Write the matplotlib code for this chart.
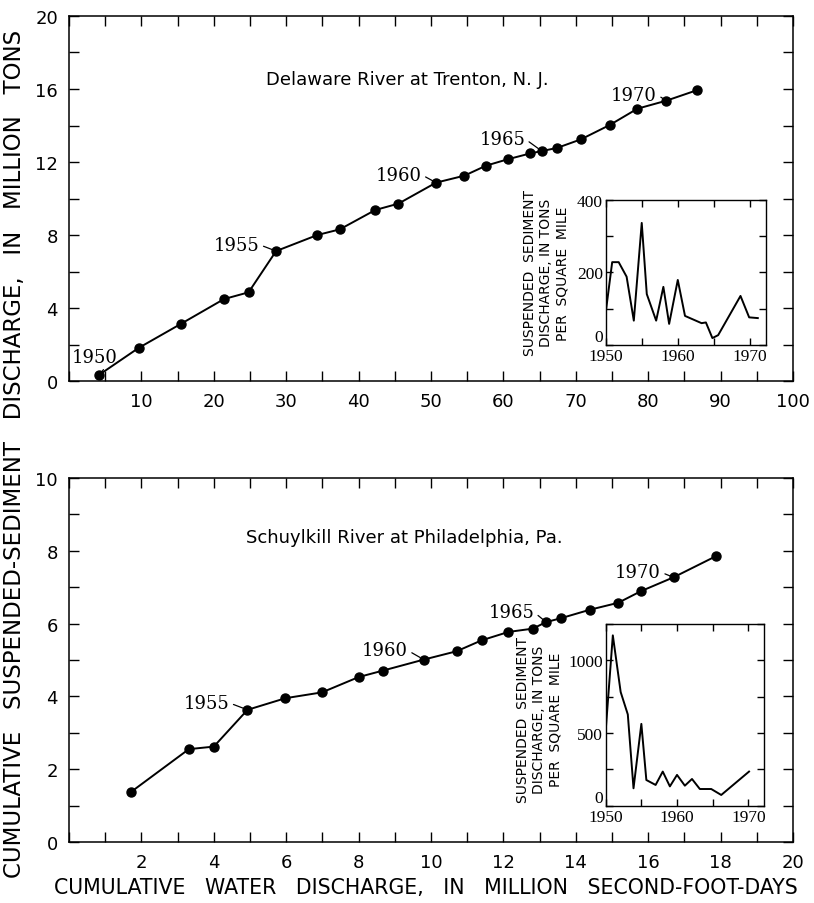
import matplotlib.pyplot as plt
from matplotlib.ticker import MultipleLocator

# cumulative curves (water discharge in million second-foot-days, sediment in million tons)
del_years = list(range(1950, 1972))
del_water = [4.2, 9.6, 15.4, 21.4, 24.8, 28.6, 34.3, 37.4, 42.3, 45.5, 50.7,
             54.6, 57.6, 60.6, 63.7, 65.3, 67.4, 70.7, 74.7, 78.5, 82.5, 86.7]
del_sed = [0.35, 1.81, 3.12, 4.49, 4.86, 7.12, 8.0, 8.31, 9.37, 9.72, 10.87,
           11.25, 11.8, 12.15, 12.47, 12.6, 12.77, 13.24, 14.03, 14.92, 15.36, 15.93]

sch_years = list(range(1952, 1972))
sch_water = [1.72, 3.31, 4.0, 4.93, 5.98, 6.99, 8.0, 8.68, 9.8, 10.71,
             11.4, 12.14, 12.81, 13.18, 13.6, 14.39, 15.17, 15.8, 16.7, 17.87]
sch_sed = [1.38, 2.55, 2.62, 3.63, 3.95, 4.11, 4.53, 4.71, 5.01, 5.24,
           5.54, 5.77, 5.86, 6.04, 6.15, 6.38, 6.57, 6.89, 7.27, 7.85]

# annual sediment yield, tons per square mile (insets)
del_yield_years = [1950.0, 1950.9, 1951.8, 1952.9, 1953.9, 1955.0, 1955.7, 1957.0, 1958.0, 1958.8,
                   1960.0, 1961.0, 1963.3, 1963.9, 1964.8, 1965.6, 1968.7, 1969.9, 1971.1]
del_yield = [89, 228, 228, 188, 67, 336, 140, 67, 160, 58,
             179, 80, 60, 62, 19, 27, 135, 76, 74]

sch_yield_years = [1950.0, 1951.0, 1952.1, 1953.1, 1953.9, 1955.0, 1955.7, 1957.0, 1958.0,
                   1959.0, 1960.0, 1961.1, 1962.1, 1963.2, 1964.8, 1966.2, 1970.1]
sch_yield = [517, 1172, 782, 628, 120, 563, 177, 143, 235,
             133, 212, 138, 184, 115, 115, 74, 235]

# year labels: (year, text x, text y) -- text is right-aligned at (x, y)
del_labels = [(1955, 26.3, 7.47), (1960, 48.7, 11.3), (1965, 63.0, 13.26), (1970, 81.2, 15.69)]
sch_labels = [(1955, 4.43, 3.82), (1960, 9.36, 5.26), (1965, 12.85, 6.31), (1970, 16.35, 7.41)]

SANS = "DejaVu Sans"
SERIF = "DejaVu Serif"
NARROW = ["Liberation Sans Narrow", "DejaVu Sans"]
inset_label = "SUSPENDED  SEDIMENT\nDISCHARGE, IN TONS\nPER  SQUARE  MILE"

fig = plt.figure(figsize=(8.14, 9.04), dpi=100)
ax1 = fig.add_axes([0.0848, 0.5774, 0.8894, 0.4038])
ax2 = fig.add_axes([0.0848, 0.0675, 0.8894, 0.4027])


def style_main(ax, xmax, xmaj, ymax, ymaj):
    ax.set_xlim(0, xmax)
    ax.set_ylim(0, ymax)
    ax.xaxis.set_major_locator(MultipleLocator(xmaj))
    ax.xaxis.set_minor_locator(MultipleLocator(xmaj / 2))
    ax.yaxis.set_major_locator(MultipleLocator(ymaj))
    ax.yaxis.set_minor_locator(MultipleLocator(ymaj / 2))
    ax.tick_params(which="both", direction="in", length=7, width=1,
                   top=True, right=True, labelsize=13, pad=8)
    for s in ax.spines.values():
        s.set_linewidth(1.1)
    for lab in ax.get_xticklabels() + ax.get_yticklabels():
        lab.set_fontfamily(SANS)


def line_with_labels(ax, xs, ys, years, labels):
    ax.plot(xs, ys, "-o", color="black", lw=1.4, ms=6.5, zorder=3)
    for yr, tx, ty in labels:
        i = years.index(yr)
        ax.annotate(str(yr), xy=(xs[i], ys[i]), xytext=(tx, ty),
                    ha="right", va="center", fontsize=13, family=SERIF,
                    arrowprops=dict(arrowstyle="-", lw=0.9, color="black",
                                    relpos=(1.0, 0.5), shrinkA=1, shrinkB=3))


# Delaware
style_main(ax1, 100, 10, 20, 4)
ax1.set_xticks([10, 20, 30, 40, 50, 60, 70, 80, 90, 100])
line_with_labels(ax1, del_water, del_sed, del_years, del_labels)
ax1.annotate("1950", xy=(del_water[0], del_sed[0]), xytext=(3.6, 1.33),
             ha="center", va="center", fontsize=13, family=SERIF,
             arrowprops=dict(arrowstyle="-", lw=0.9, color="black",
                             relpos=(0.75, 0.0), shrinkA=1, shrinkB=3))
ax1.text(27.2, 16.55, "Delaware River at Trenton, N. J.", ha="left", va="center",
         fontsize=13, family=SANS)

# Schuylkill
style_main(ax2, 20, 2, 10, 2)
ax2.set_xticks([2, 4, 6, 8, 10, 12, 14, 16, 18, 20])
ax2.yaxis.set_minor_locator(MultipleLocator(1))
ax2.xaxis.set_minor_locator(MultipleLocator(1))
line_with_labels(ax2, sch_water, sch_sed, sch_years, sch_labels)
ax2.text(4.89, 8.38, "Schuylkill River at Philadelphia, Pa.", ha="left", va="center",
         fontsize=13, family=SANS)


def style_inset(ax, ymax, yticks, ylabels):
    ax.set_xlim(1950, 1972.2)
    ax.set_ylim(0, ymax)
    ax.set_xticks([1950, 1955, 1960, 1965, 1970])
    ax.set_xticklabels(["1950", "", "1960", "", "1970"], family="Liberation Serif", fontsize=12.5)
    ax.set_yticks(yticks)
    ax.set_yticklabels(ylabels, family="Liberation Serif", fontsize=12.5)
    # the zero sits above the corner, clear of the 1950 label
    ax.get_yticklabels()[0].set_verticalalignment("bottom")
    ax.tick_params(direction="in", length=5, width=1, top=True, right=True, pad=2)
    for s in ax.spines.values():
        s.set_linewidth(1.0)


ins1 = fig.add_axes([0.7441, 0.6173, 0.1966, 0.1607])
style_inset(ins1, 400, [0, 100, 200, 300, 400], ["0", "", "200", "", "400"])
ins1.plot(del_yield_years, del_yield, color="black", lw=1.4)
ins1.text(-0.37, 0.5, inset_label, transform=ins1.transAxes, rotation=90,
          ha="center", va="center", multialignment="center", fontsize=10,
          family=NARROW, linespacing=1.2)

ins2 = fig.add_axes([0.7441, 0.1076, 0.1945, 0.2010])
style_inset(ins2, 1250, [0, 250, 500, 750, 1000, 1250], ["0", "", "500", "", "1000", ""])
ins2.plot(sch_yield_years, sch_yield, color="black", lw=1.4)
ins2.text(-0.42, 0.48, inset_label, transform=ins2.transAxes, rotation=90,
          ha="center", va="center", multialignment="center", fontsize=10,
          family=NARROW, linespacing=1.2)

fig.text(0.018, 0.498, "CUMULATIVE   SUSPENDED-SEDIMENT   DISCHARGE,   IN   MILLION   TONS",
         rotation=90, ha="center", va="center", fontsize=16.5, family=SANS)
fig.text(0.523, 0.018, "CUMULATIVE   WATER   DISCHARGE,   IN   MILLION   SECOND-FOOT-DAYS",
         ha="center", va="center", fontsize=14.8, family=SANS)

fig.savefig("out.png", dpi=100)
